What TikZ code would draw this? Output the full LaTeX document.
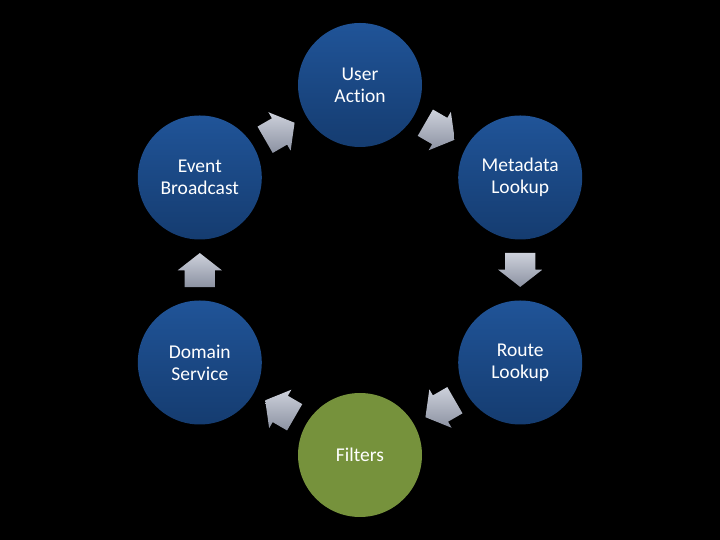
\documentclass[tikz,border=0pt]{standalone}
\usepackage{fontspec}
\setmainfont{Carlito}[Ligatures={NoCommon}]
\usetikzlibrary{shapes.arrows,calc}

\definecolor{bluetop}{RGB}{32,84,152}
\definecolor{bluebot}{RGB}{21,60,112}
\definecolor{filtgreen}{RGB}{118,146,60}
\definecolor{arrtop}{RGB}{205,209,219}
\definecolor{arrbot}{RGB}{140,146,162}

\begin{document}
\begin{tikzpicture}[x=1pt,y=1pt,
  stepball/.style={circle,minimum size=124pt,inner sep=0pt,text=white,align=center,
    font=\fontsize{19.5}{22}\selectfont,top color=bluetop,bottom color=bluebot},
  greenball/.style={stepball,top color=filtgreen,bottom color=filtgreen},
  flow/.style={single arrow,minimum height=34pt,minimum width=44pt,
    inner xsep=0pt,inner ysep=15pt,
    single arrow head extend=7pt,single arrow tip angle=104,
    top color=arrtop,bottom color=arrbot,rotate=#1,xshift=-6pt}]
\fill[black] (0,0) rectangle (720,540);
\useasboundingbox (0,0) rectangle (720,540);
% the six steps on a ring
\node[stepball] (user) at ($(360,270)+(90:185)$) {User\\Action};
\node[stepball] (meta) at ($(360,270)+(30:185)$) {Metadata\\Lookup};
\node[stepball] (route) at ($(360,270)+(-30:185)$) {Route\\Lookup};
\node[greenball] (filt) at ($(360,270)+(-90:185)$) {Filters};
\node[stepball] (domain) at ($(360,270)+(-150:185)$) {Domain\\Service};
\node[stepball] (event) at ($(360,270)+(150:185)$) {Event\\Broadcast};
% block arrows between them
\node[flow=-30] (a1) at ($(user)!0.5!(meta)$) {};
\node[flow=-90] (a2) at ($(meta)!0.5!(route)$) {};
\node[flow=-150] (a3) at ($(route)!0.5!(filt)$) {};
\node[flow=150] (a4) at ($(filt)!0.5!(domain)$) {};
\node[flow=90] (a5) at ($(domain)!0.5!(event)$) {};
\node[flow=30] (a6) at ($(event)!0.5!(user)$) {};
\end{tikzpicture}
\end{document}
